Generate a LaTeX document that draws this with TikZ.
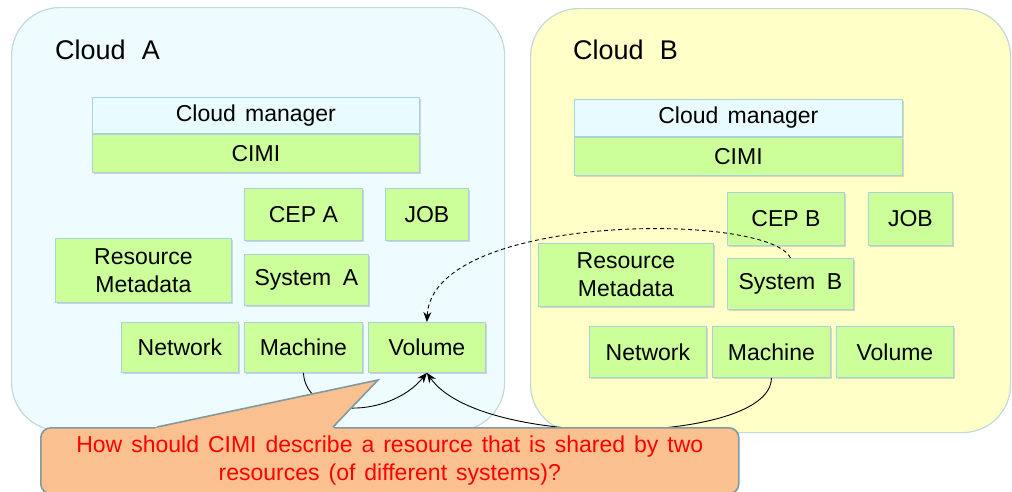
\documentclass[tikz,border=0pt]{standalone}
\usepackage{fontspec}
\setmainfont{Liberation Sans}
\usepackage{xcolor}
\usepackage{tikz}
\usetikzlibrary{arrows.meta,positioning,shadows}
\definecolor{skyA}{HTML}{EEFCFF}
\definecolor{sandB}{HTML}{FFFFC8}
\definecolor{rim}{HTML}{C4D8DC}
\definecolor{leaf}{HTML}{CCFF99}
\definecolor{leafrim}{HTML}{A9D3DC}
\definecolor{mgr}{HTML}{E8FCFF}
\definecolor{peach}{HTML}{FAC090}
\definecolor{slate}{HTML}{7F9BA0}

\begin{document}
\begin{tikzpicture}[x=1pt,y=-1pt,>={Stealth[length=10pt,width=8pt]},
  font=\fontsize{23}{28}\selectfont,
  cloud/.style={draw=rim,line width=1.2pt,rounded corners=48pt,anchor=north west,inner sep=0pt},
  res/.style={draw=leafrim,fill=leaf,line width=0.8pt,anchor=north west,inner sep=0pt,align=center,
    drop shadow={shadow xshift=1.5pt,shadow yshift=-2pt,opacity=0.3}},
  title/.style={anchor=west,inner sep=0pt,font=\fontsize{27}{30}\selectfont}]
\useasboundingbox (0,0) rectangle (1012,491);
% the two clouds
\node[cloud,fill=skyA,minimum width=493pt,minimum height=423pt] (cloudA) at (11,7) {};
\node[cloud,fill=sandB,minimum width=480pt,minimum height=424pt] (cloudB) at (530,8) {};
\node[title] (titleA) at (55,50) {Cloud\hspace{0.6em}A};
\node[title] (titleB) at (573,50) {Cloud\hspace{0.6em}B};
% cloud A
\node[res,fill=mgr,minimum width=327pt,minimum height=36pt] (mgrA) at (92,97) {Cloud\hspace{0.4em}manager};
\node[res,minimum width=327pt,minimum height=38pt,below=0pt of mgrA] (cimiA) {CIMI};
\node[res,minimum width=118pt,minimum height=52pt] (cepA) at (244,188) {CEP A};
\node[res,minimum width=83pt,minimum height=52pt] (jobA) at (385,188) {JOB};
\node[res,minimum width=176pt,minimum height=64pt] (metaA) at (55,238) {Resource\\Metadata};
\node[res,minimum width=124pt,minimum height=51pt] (sysA) at (244,254) {System\hspace{0.5em}A};
\node[res,minimum width=117pt,minimum height=50pt] (netA) at (121,322) {Network};
\node[res,minimum width=118pt,minimum height=50pt] (macA) at (244,322) {Machine};
\node[res,minimum width=117pt,minimum height=50pt] (volA) at (368,322) {Volume};
% cloud B
\node[res,fill=mgr,minimum width=328pt,minimum height=37pt] (mgrB) at (574,99) {Cloud\hspace{0.4em}manager};
\node[res,minimum width=328pt,minimum height=38pt,below=0pt of mgrB] (cimiB) {CIMI};
\node[res,minimum width=117pt,minimum height=53pt] (cepB) at (727,192) {CEP B};
\node[res,minimum width=84pt,minimum height=53pt] (jobB) at (868,192) {JOB};
\node[res,minimum width=175pt,minimum height=63pt] (metaB) at (538,243) {Resource\\Metadata};
\node[res,minimum width=126pt,minimum height=51pt] (sysB) at (727,258) {System\hspace{0.5em}B};
\node[res,minimum width=117pt,minimum height=51pt] (netB) at (589,326) {Network};
\node[res,minimum width=118pt,minimum height=51pt] (macB) at (712,326) {Machine};
\node[res,minimum width=117pt,minimum height=51pt] (volB) at (836,326) {Volume};
% links to the shared volume
\draw[->,line width=0.9pt] (macA.south) .. controls (306,420) and (390,418) .. (volA.south);
\draw[->,line width=0.9pt] (macB.south) .. controls (772,445) and (480,450) .. (volA.south);
\draw[->,line width=0.9pt,dash pattern=on 4pt off 3pt] (sysB.north) .. controls (770,212) and (432,212) .. (volA.north);
% callout
\node[draw=slate,fill=peach,line width=1.6pt,rounded corners=10pt,anchor=north west,
  minimum width=698pt,minimum height=66pt,inner sep=0pt,align=center,text=red,
  font={\fontsize{23}{28}\selectfont\spaceskip=9pt plus 3pt\relax}] (ask) at (40,427)
  {How should CIMI describe a resource that is shared by two\\resources (of different systems)?};
\fill[peach] (155,429) -- (157,427) -- (378,380) -- (333,427) -- (335,429) -- cycle;
\draw[slate,line width=1.6pt] (157,427) -- (378,380) -- (333,427);
\end{tikzpicture}
\end{document}
